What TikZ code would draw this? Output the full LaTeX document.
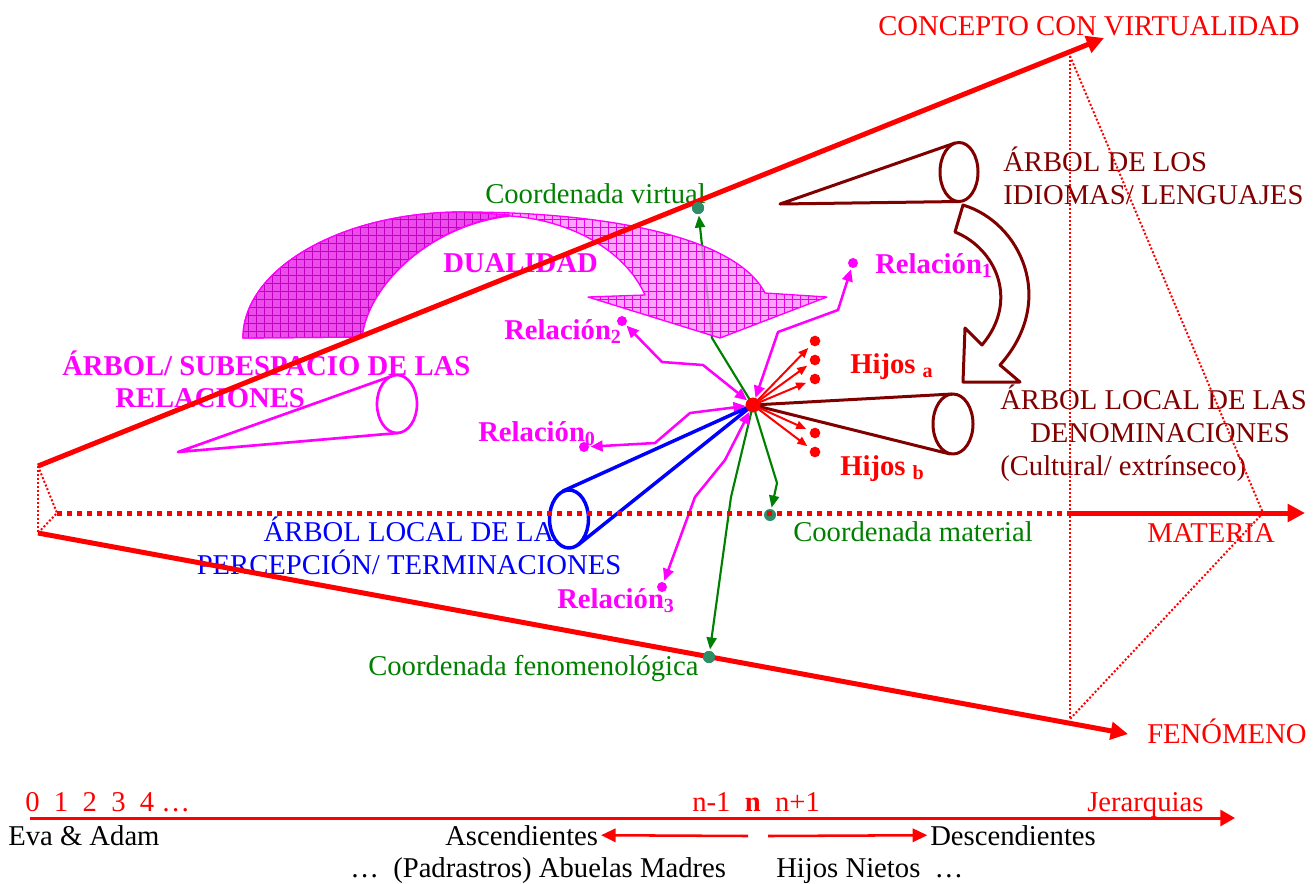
\documentclass[tikz,border=0pt]{standalone}
\usepackage{fontspec}
\setmainfont{Liberation Serif}
\usepackage{tikz}
\usetikzlibrary{arrows.meta,patterns.meta}
\definecolor{ffqqqq}{rgb}{1.,0.,0.}
\definecolor{ffqqff}{rgb}{1.,0.,1.}
\definecolor{qqqqff}{rgb}{0.,0.,1.}
\definecolor{xqqqqq}{rgb}{0.5,0.,0.}
\definecolor{qqxqqq}{rgb}{0.,0.5,0.}
\definecolor{sgdot}{rgb}{0.18,0.55,0.4}
\definecolor{pkdark}{rgb}{0.92,0.3,0.92}
\definecolor{pklight}{rgb}{1.,0.55,1.}
\newcommand{\dualpath}{(243,338) .. controls (243,269) and (341,212) .. (463,212) .. controls (600,212) and (735,235) .. (765,293) -- (827,297) -- (720,338) -- (588,297) -- (645,295) .. controls (625,250) and (570,220) .. (510,216) .. controls (430,225) and (368,285) .. (362,337) -- cycle}
\newcommand{\dualdark}{(243,338) .. controls (243,269) and (341,212) .. (463,212) -- (510,215) .. controls (430,225) and (368,285) .. (362,337) -- cycle}

\begin{document}
\begin{tikzpicture}[line cap=round,line join=round,x=0.75pt,y=-0.75pt,
  txt/.style={font=\fontsize{21.5}{24.75}\selectfont,inner sep=0pt,anchor=base west},
  btxt/.style={txt,font=\fontsize{21.5}{24.75}\selectfont\bfseries},
  axisred/.style={color=ffqqqq,line width=3.75pt,line cap=butt,-{Triangle[length=13pt,width=13pt]}},
  dashmid/.style={color=ffqqqq,line width=3.75pt,line cap=butt,dash pattern=on 3.75pt off 3.75pt},
  dotline/.style={color=ffqqqq,line width=1.5pt,line cap=butt,dash pattern=on 1.5pt off 1.5pt},
  relarr/.style={color=ffqqff,line width=1.9pt,{Triangle[length=9pt,width=8pt]}-{Triangle[length=9pt,width=8pt]},shorten >=1pt},
  virtarr/.style={color=qqxqqq,line width=1.6pt,-{Triangle[length=9pt,width=7.5pt]},shorten >=1pt},
  hijoarr/.style={color=ffqqqq,line width=1.5pt,-{Triangle[length=7.5pt,width=6pt]},shorten >=3pt},
  genarr/.style={color=ffqqqq,line width=1.9pt,-{Triangle[length=11pt,width=10pt]},shorten >=2pt},
  brn/.style={color=xqqqqq,line width=2.25pt},
  reldot/.style={circle,fill=ffqqff,inner sep=0pt,minimum size=7.5pt},
  hdot/.style={circle,fill=ffqqqq,inner sep=0pt,minimum size=8pt},
  gdot/.style={circle,fill=sgdot,inner sep=0pt,minimum size=9pt}]
\useasboundingbox (0,0) rectangle (1314,883);
% axes
\coordinate (ua) at (38,466);
\coordinate (ut) at (1104,38);
\coordinate (la) at (38,533);
\coordinate (lt) at (1128,734);
\coordinate (ma) at (57,513);
\coordinate (mm) at (1070,513);
\coordinate (mt) at (1305,513);
\coordinate (rv) at (1070,56);
\coordinate (rb) at (1070,719);
\coordinate (rr) at (1263,513);
% points
\node[circle,fill=ffqqqq,inner sep=0pt,minimum size=11pt] (n0) at (753,405) {};
\node[gdot] (cv) at (698,208) {};
\node[gdot] (cm) at (770,515) {};
\node[gdot] (cf) at (709,657) {};
\node[reldot] (r1) at (853,263) {};
\node[reldot] (r2) at (622,321) {};
\node[reldot] (r0) at (584,447) {};
\node[reldot] (r3) at (662,587) {};
\node[hdot] (ha1) at (815,341) {};
\node[hdot] (ha2) at (815,360) {};
\node[hdot] (ha3) at (815,379) {};
\node[hdot] (hb1) at (815,433) {};
\node[hdot] (hb2) at (815,452) {};
% coordenadas
\draw[virtarr] (n0) -- (712,338) -- (cv);
\draw[virtarr] (n0) -- (777,483) -- (cm);
\draw[virtarr] (n0) -- (731,497) -- (cf);
% dualidad
\path[fill=pklight,fill opacity=0.8] \dualpath;
\path[pattern={Hatch[angle=0,distance=6pt,line width=0.3pt]},pattern color=ffqqff!90!black] \dualpath;
\draw[ffqqff,line width=1pt] \dualpath;
\path[fill=pkdark] \dualdark;
\path[pattern={Hatch[angle=0,distance=6pt,line width=0.3pt]},pattern color=ffqqff!75!black] \dualdark;
\draw[ffqqff,line width=1pt] \dualdark;
% labels
\node[txt,ffqqqq] (con) at (878,35) {CONCEPTO CON VIRTUALIDAD};
\node[txt,xqqqqq] (idi1) at (1003,171) {ÁRBOL DE LOS};
\node[txt,xqqqqq] (idi2) at (1003,204) {IDIOMAS/ LENGUAJES};
\node[txt,qqxqqq] (cvt) at (485,203) {Coordenada virtual};
\node[btxt,ffqqff] (dual) at (443,272) {DUALIDAD};
\node[btxt,ffqqff] (rel1t) at (875,273) {Relación\textsubscript{1}};
\node[btxt,ffqqff] (rel2t) at (504,339) {Relación\textsubscript{2}};
\node[btxt,ffqqqq] (hat) at (850,373) {Hijos \textsubscript{a}};
\node[btxt,ffqqff] (sub1) at (62,375) {ÁRBOL/ SUBESPACIO DE LAS};
\node[btxt,ffqqff] (sub2) at (115,407) {RELACIONES};
\node[txt,xqqqqq] (den1) at (1000,409) {ÁRBOL LOCAL DE LAS};
\node[txt,xqqqqq] (den2) at (1030,442) {DENOMINACIONES};
\node[txt,xqqqqq] (den3) at (1000,475) {(Cultural/ extrínseco)};
\node[btxt,ffqqff] (rel0t) at (478,441) {Relación\textsubscript{0}};
\node[btxt,ffqqqq] (hbt) at (840,475) {Hijos \textsubscript{b}};
\node[txt,qqqqff,anchor=base] (per1) at (409,541) {ÁRBOL LOCAL DE LA};
\node[txt,qqqqff,anchor=base] (per2) at (409,574) {PERCEPCIÓN/ TERMINACIONES};
\node[txt,qqxqqq] (cmt) at (793,541) {Coordenada material};
\node[txt,ffqqqq] (mat) at (1147,542) {MATERIA};
\node[btxt,ffqqff] (rel3t) at (557,608) {Relación\textsubscript{3}};
\node[txt,qqxqqq] (cft) at (368,675) {Coordenada fenomenológica};
\node[txt,ffqqqq] (fen) at (1147,743) {FENÓMENO};
% relaciones
\draw[relarr] (n0) -- (778,332) -- (838,310) -- (r1);
\draw[relarr] (n0) -- (703,365) -- (662,362) -- (r2);
\draw[relarr] (n0) -- (690,413) -- (655,443) -- (r0);
\draw[relarr] (n0) -- (725,460) -- (695,497) -- (r3);
\draw[ffqqff,line width=2pt] (178,452) -- (392,376) (178,452) -- (398,433);
\draw[ffqqff,line width=2pt] (397,404) ellipse (20 and 29);
% arboles
\draw[qqqqff,line width=2.6pt] (n0.center) -- (563,491) (n0.center) -- (578,545);
\draw[qqqqff,line width=2.6pt] (569,519) ellipse (19.5 and 29);
\draw[brn] (n0.center) -- (952,394) (n0.center) -- (950,454);
\draw[brn] (953,424) ellipse (20 and 30);
\draw[brn] (780,204) -- (955,143) (780,204) -- (959,201.5);
\draw[brn] (959,172) ellipse (19 and 29.5);
\draw[brn] (963,205) .. controls (1020,222) and (1058,300) .. (1000,365) -- (1020,382) -- (963,382) -- (965,328) -- (982,345) .. controls (1020,300) and (995,248) .. (955,232) -- cycle;
\foreach \h in {ha1,ha2,ha3,hb1,hb2}
  \draw[hijoarr] (n0) -- (\h);
\node[circle,fill=ffqqqq,inner sep=0pt,minimum size=11pt] at (n0) {};
% ejes
\draw[axisred] (ua) -- (ut);
\draw[axisred] (la) -- (lt);
\draw[dashmid] (ma) -- (mm);
\draw[axisred] (mm) -- (mt);
\draw[dotline] (ua) -- (la);
\draw[dotline] (ua) -- (ma) -- (la);
\draw[dotline] (rv) -- (rb);
\draw[dotline] (rv) -- (rr) -- (rb);
\node[gdot] at (cv) {};
\node[gdot] at (cf) {};
% jerarquias
\coordinate (h0) at (30,818);
\coordinate (h1) at (1235,818);
\coordinate (nl) at (748,836);
\coordinate (nr) at (768,836);
\draw[ffqqqq,line width=2.25pt,line cap=butt,-{Triangle[length=11pt,width=12pt]}] (h0) -- (h1);
\node[txt,ffqqqq] (nums) at (25,811) {0\ \ 1\ \ 2\ \ 3\ \ 4 …};
\node[txt,ffqqqq] (nn) at (692,811) {n-1\ \ \textbf{n}\ \ n+1};
\node[txt,ffqqqq] (jer) at (1087,811) {Jerarquias};
\node[txt] (eva) at (8,845) {Eva \& Adam};
\node[txt] (asc) at (445,845) {Ascendientes};
\node[txt] (desc) at (930,845) {Descendientes};
\node[txt] (pad) at (350,877) {…\ \ (Padrastros) Abuelas Madres};
\node[txt] (hn) at (776,877) {Hijos Nietos\ \ …};
\draw[genarr,line cap=butt] (nl) -- (asc.east);
\draw[genarr,line cap=butt] (nr) -- (desc.west);
\end{tikzpicture}
\end{document}
